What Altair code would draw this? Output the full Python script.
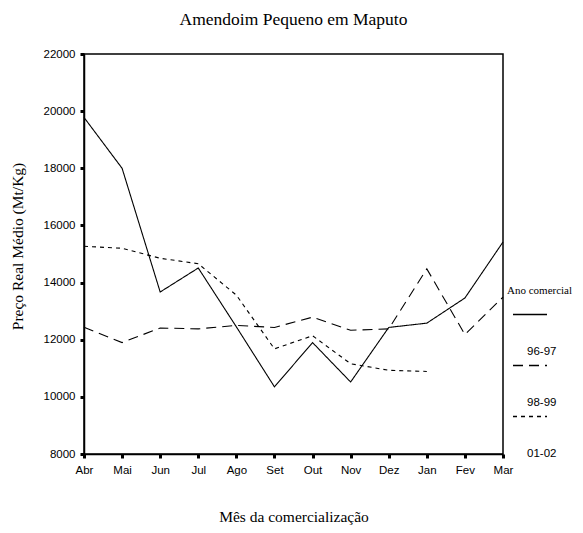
import altair as alt
import pandas as pd

months = ["Abr", "Mai", "Jun", "Jul", "Ago", "Set", "Out", "Nov", "Dez", "Jan", "Fev", "Mar"]
series = ["96-97", "98-99", "01-02"]
s9697 = [19780, 18000, 13670, 14510, 12450, 10350, 11900, 10520, 12430, 12580, 13460, 15420]
s9899 = [12440, 11900, 12410, 12380, 12500, 12430, 12790, 12330, 12380, 14480, 12180, 13490]
s0102 = [15270, 15200, 14850, 14660, 13560, 11680, 12140, 11160, 10930, 10890, None, None]
y_ticks = [8000, 10000, 12000, 14000, 16000, 18000, 20000, 22000]

rows = []
for name, vals in zip(series, [s9697, s9899, s0102]):
    for m, v in zip(months, vals):
        if v is not None:
            rows.append({"Mes": m, "Preco": v, "Ano": name})
df = pd.DataFrame(rows)

SERIF = "Liberation Serif"
SANS = "Liberation Sans"

tick_style = dict(ticks=True, tickColor="black", tickWidth=3, tickSize=4,
                  domainColor="black", domainWidth=1.5)

chart = alt.Chart(df).mark_line(color="black", strokeWidth=1.1).encode(
    x=alt.X("Mes:N", sort=months,
            scale=alt.Scale(type="point", padding=0),
            axis=alt.Axis(title="Mês da comercialização", labelAngle=0,
                          labelPadding=6, titlePadding=34, **tick_style)),
    y=alt.Y("Preco:Q",
            scale=alt.Scale(domain=[8000, 22000], nice=False, zero=False),
            axis=alt.Axis(title="Preço Real Médio (Mt/Kg)", values=y_ticks,
                          format="d", labelPadding=5, titlePadding=18, titleY=192,
                          **tick_style)),
    strokeDash=alt.StrokeDash("Ano:N",
                              scale=alt.Scale(domain=series, range=[[1, 0], [10, 6], [4, 4]]),
                              legend=alt.Legend(title="Ano comercial", orient="none",
                                                legendX=423, legendY=231,
                                                symbolType="M-2,-3.65H2", symbolSize=289,
                                                symbolOffset=13.5,
                                                symbolStrokeWidth=1.3, symbolStrokeColor="black",
                                                labelBaseline="top", labelAlign="right",
                                                labelOffset=17,
                                                rowPadding=5,
                                                titleFont=SERIF, titleFontSize=11,
                                                titleFontWeight="normal", titleColor="black",
                                                titlePadding=40,
                                                labelFont=SANS, labelFontSize=11.5,
                                                labelColor="black")),
).properties(
    width=419,
    height=400,
    title=alt.Title("Amendoim Pequeno em Maputo", font=SERIF, fontSize=17.5,
                    fontWeight="normal", color="black", frame="group", offset=20),
    padding={"left": 2, "top": 2, "right": 0, "bottom": 0},
).configure_view(
    stroke="black", strokeWidth=1.5
).configure_axis(
    grid=False,
    labelFont=SANS, labelFontSize=11.5, labelColor="black",
    titleFont=SERIF, titleFontSize=15.5, titleFontWeight="normal", titleColor="black",
)

chart.save("out.html", embed_options={"renderer": "svg", "actions": False})
